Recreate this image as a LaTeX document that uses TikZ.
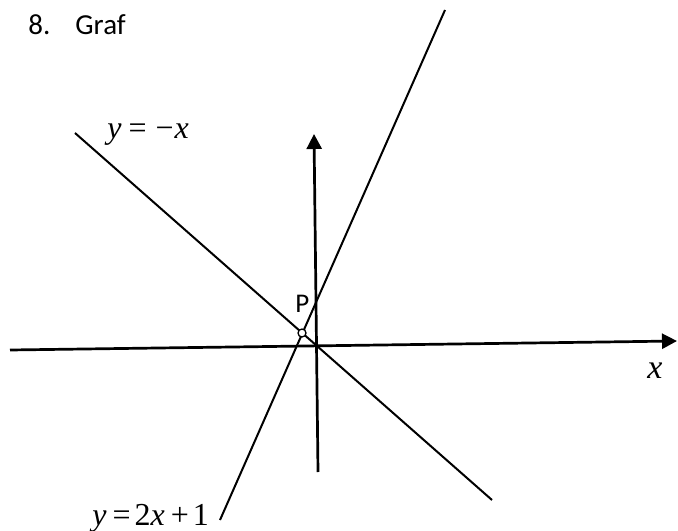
\documentclass[tikz,border=0pt]{standalone}
\usepackage{fontspec}
\setmainfont{Carlito}
\newfontfamily\eqfont{Liberation Serif}
\usetikzlibrary{arrows.meta, positioning}

\begin{document}
\begin{tikzpicture}[x=0.5pt, y=0.5pt,
   axis/.style={line width=1.35pt, -{Triangle[length=7.5pt, width=7.5pt]}},
   graph/.style={line width=1pt},
   eq/.style={font=\eqfont\fontsize{16}{18}\selectfont, inner sep=0pt, anchor=base west},
   lbl/.style={font=\fontsize{14.5}{16}\selectfont, inner sep=0pt, anchor=base west}]
            \useasboundingbox (0,0) rectangle (678,530);
            % Title
            \node[lbl] (title) at (28,495) {8.\hspace{12.5pt}Graf};
            % End points of the axes and graphs
            \coordinate (xl) at (10,180);
            \coordinate (xr) at (677,189);
            \coordinate (yb) at (318,58);
            \coordinate (yt) at (314,396);
            \coordinate (a1) at (75,397);
            \coordinate (a2) at (492,30);
            \coordinate (b1) at (220,10);
            \coordinate (b2) at (445,520);
            % Axes
            \draw[axis] (xl) -- (xr);
            \draw[axis] (yb) -- (yt);
            % Graphs
            \draw[graph] (a1) -- (a2);
            \draw[graph] (b1) -- (b2);
            % Intersection point
            \node[circle, draw, fill=white, line width=0.65pt, inner sep=0pt, minimum size=4pt] (p) at (302,197) {};
            \node[lbl, font=\fontsize{13.5}{15}\selectfont] (plbl) at (295,218) {P};
            % Labels
            \node[eq] (eqa) at (107,391) {\textit{y}\hspace{3.5pt}=\hspace{4.5pt}−\hspace{0.5pt}\textit{x}};
            \node[eq] (eqb) at (92,5) {\textit{y}\hspace{3pt}=\hspace{2pt}2\textit{x}\hspace{3pt}+\hspace{2pt}1};
            \node[eq, font=\eqfont\fontsize{17}{19}\selectfont] (xlbl) at (647,152) {\textit{x}};
         \end{tikzpicture}
\end{document}
